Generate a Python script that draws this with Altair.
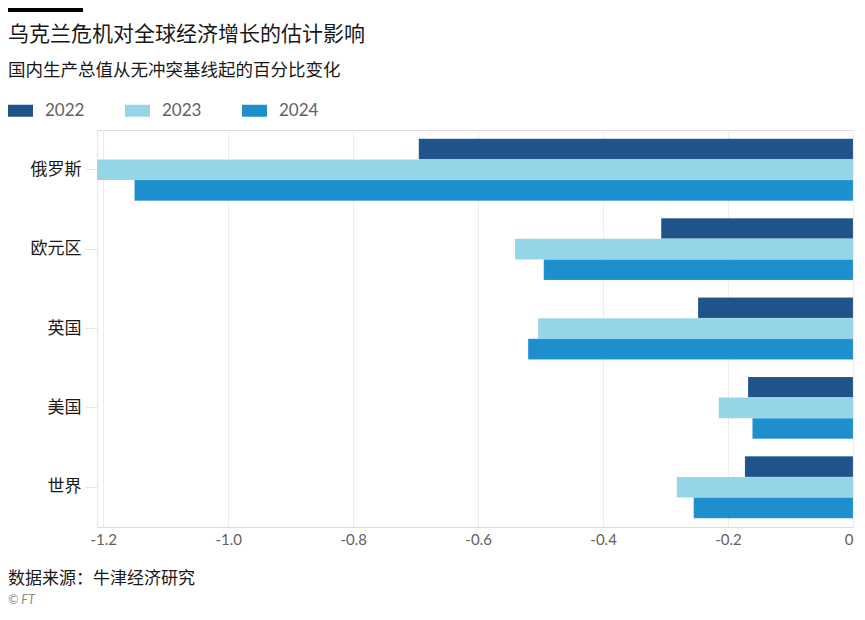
import altair as alt
import pandas as pd

countries = ["俄罗斯", "欧元区", "英国", "美国", "世界"]
years = ["2022", "2023", "2024"]
v2022 = [-0.695, -0.307, -0.248, -0.168, -0.173]
v2023 = [-1.21, -0.541, -0.504, -0.215, -0.282]
v2024 = [-1.15, -0.495, -0.520, -0.161, -0.255]
colors = ["#1f538a", "#96d4e8", "#1e8fcd"]
x_ticks = [-1.2, -1.0, -0.8, -0.6, -0.4, -0.2, 0]

title_text = "乌克兰危机对全球经济增长的估计影响"
subtitle_text = "国内生产总值从无冲突基线起的百分比变化"
source_text = "数据来源：牛津经济研究"
credit_text = "© FT"

rows = []
for yr, vals in zip(years, [v2022, v2023, v2024]):
    for c, v in zip(countries, vals):
        rows.append({"country": c, "year": yr, "value": v})
df = pd.DataFrame(rows)

CJK = "Noto Sans CJK SC"
NUM = "Lato"

bars = alt.Chart(df).mark_bar(stroke="#ffffff", strokeOpacity=0.25, strokeWidth=0.5).encode(
    x=alt.X("value:Q", scale=alt.Scale(domain=[-1.21, 0], nice=False, zero=False),
            axis=alt.Axis(values=x_ticks, title=None, grid=True, gridColor="#efebe7",
                          domain=False, ticks=False, labelColor="#66605c", labelFont=NUM,
                          labelFontSize=15, labelPadding=5,
                          labelExpr="datum.value == 0 ? '0' : replace(format(datum.value, '.1f'), '\u2212', '-')")),
    y=alt.Y("country:N", sort=countries,
            scale=alt.Scale(paddingInner=0.22, paddingOuter=0.11),
            axis=alt.Axis(title=None, labelFont=CJK, labelFontSize=17, labelColor="#1a1817",
                          tickColor="#e9e4df", tickSize=12, labelPadding=4,
                          domainColor="#e9e4df")),
    yOffset=alt.YOffset("year:N", sort=years, scale=alt.Scale(paddingInner=0, paddingOuter=0)),
    color=alt.Color("year:N", sort=years, scale=alt.Scale(domain=years, range=colors),
                    legend=alt.Legend(title=None, orient="none", direction="horizontal",
                                      legendX=-89, legendY=-32,
                                      symbolType="M-1,-0.48H1V0.48H-1Z", symbolSize=625,
                                      symbolStrokeWidth=0, symbolOpacity=1,
                                      labelFont=NUM, labelFontSize=17, labelColor="#66605c",
                                      labelOffset=12, columnPadding=40)),
)

def label(text, y, font, size, color, style="normal"):
    return alt.Chart(pd.DataFrame({"t": [text]})).mark_text(
        align="left", baseline="alphabetic", font=font, fontSize=size, color=color, fontStyle=style
    ).encode(x=alt.value(-89), y=alt.value(y), text="t:N")

title = label(title_text, -89, CJK, 21, "#1a1817")
subtitle = label(subtitle_text, -54, CJK, 17.5, "#1a1817")
src = label(source_text, 454, CJK, 17, "#1a1817")
ft = label(credit_text, 474, NUM, 12.5, "#8d8a87", "italic")

topbar = alt.Chart(pd.DataFrame({"a": [0]})).mark_rule(color="#000000", strokeWidth=4).encode(
    x=alt.value(-89), x2=alt.value(-14), y=alt.value(-120)
)

chart = alt.layer(bars, title, subtitle, src, ft, topbar).properties(
    width=756, height=397,
    padding={"left": 89, "top": 122, "right": 4, "bottom": 81},
    autosize=alt.AutoSizeParams(type="none"),
).configure_view(stroke=None).configure(background="#ffffff")

chart.save("out.html", embed_options={"renderer": "svg", "actions": False})
